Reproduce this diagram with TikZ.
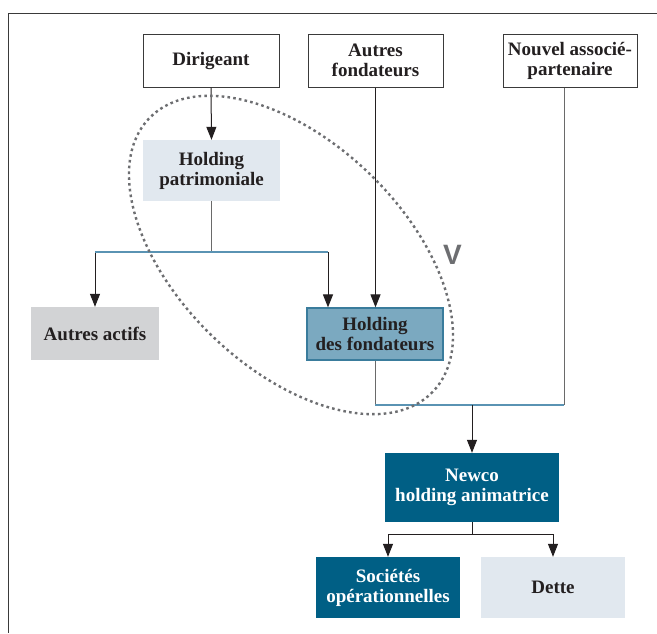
\documentclass[tikz,border=0pt]{standalone}
\usepackage{fontspec}
\setmainfont{Liberation Serif}
\newfontfamily\vfont{Liberation Sans}
\usetikzlibrary{arrows.meta}
\definecolor{darkteal}{HTML}{005F85}
\definecolor{midteal}{HTML}{7BA9C0}
\definecolor{midedge}{HTML}{3A7C9C}
\definecolor{lightblue}{HTML}{E1E8EF}
\definecolor{lightgray}{HTML}{D2D3D5}
\definecolor{txt}{HTML}{231F20}
\definecolor{framec}{HTML}{3A3A3A}
\definecolor{linegray}{HTML}{6A6A6A}
\definecolor{lineblue}{HTML}{5A93B3}
\definecolor{dotgray}{HTML}{6D6E71}
\tikzset{
  base/.style={rectangle, inner sep=0pt, align=center, text=txt,
    font=\fontsize{19}{20}\selectfont\bfseries},
  wbox/.style={base, draw=framec, line width=1pt, fill=white},
  lbox/.style={base, fill=lightblue},
  gbox/.style={base, fill=lightgray},
  mbox/.style={base, fill=midteal, draw=midedge, line width=1.2pt},
  dbox/.style={base, fill=darkteal, text=white},
  arr/.style={draw=txt, line width=1pt, -{Triangle[length=13pt,width=10pt]}},
  gline/.style={draw=linegray, line width=1pt},
  kline/.style={draw=txt, line width=1pt},
  bline/.style={draw=lineblue, line width=1.2pt},
  ell/.style={draw=dotgray, line width=2.4pt, dash pattern=on 2.6pt off 3.2pt},
  framestyle/.style={draw=framec, line width=1.5pt}
}
\begin{document}
\begin{tikzpicture}[x=1pt,y=-1pt]
\useasboundingbox (0,0) rectangle (657,633);
\fill[white] (0,0) rectangle (657,633);
\draw[framestyle] (657,13.5) -- (8.5,13.5) -- (8.5,633);

\node[wbox, minimum width=136pt, minimum height=53pt] (dir) at (211,60.5) {Dirigeant};
\node[wbox, minimum width=135pt, minimum height=53pt] (af) at (375.5,60.5) {Autres\\fondateurs};
\node[wbox, minimum width=134pt, minimum height=53pt] (nouv) at (570,60.5) {Nouvel associé-\\partenaire};
\node[lbox, minimum width=137pt, minimum height=61pt] (pat) at (211.5,170.5) {Holding\\patrimoniale};
\node[gbox, minimum width=128pt, minimum height=53pt] (aa) at (95,333.5) {Autres actifs};
\node[mbox, minimum width=136pt, minimum height=52pt] (hdf) at (375,334) {Holding\\des fondateurs};
\node[dbox, minimum width=174pt, minimum height=69pt] (newco) at (472,487.5) {Newco\\holding animatrice};
\node[dbox, minimum width=144pt, minimum height=61pt] (soc) at (388,587.5) {Sociétés\\opérationnelles};
\node[lbox, minimum width=144pt, minimum height=61pt] (dette) at (553,587.5) {Dette};

% Dirigeant -> Holding patrimoniale
\draw[arr] (dir.south) -- (pat.north);
% Holding patrimoniale branches
\coordinate (b1) at (211.5,252);
\coordinate (hdfin) at ([xshift=-47pt]hdf.north);
\draw[gline] (pat.south) -- (b1);
\draw[arr] (aa.north |- b1) -- (aa.north);
\draw[arr] (hdfin |- b1) -- (hdfin);
\draw[bline] (aa.north |- b1) -- (hdfin |- b1);
% Autres fondateurs -> Holding des fondateurs
\draw[arr] (af.south) -- (af.south |- hdf.north);
% Holding des fondateurs + Nouvel associe -> Newco
\coordinate (b2) at (375,405);
\coordinate (nouvout) at ([xshift=-6pt]nouv.south);
\draw[gline] (hdf.south) -- (b2);
\draw[gline] (nouvout) -- (nouvout |- b2);
\draw[bline] (b2) -- (nouvout |- b2);
\draw[arr] (newco.north |- b2) -- (newco.north);
% Newco -> Societes, Dette
\coordinate (b4) at (472,534);
\draw[kline] (newco.south) -- (b4);
\draw[arr] (soc.north |- b4) -- (soc.north);
\draw[arr] (dette.north |- b4) -- (dette.north);
\draw[kline] (soc.north |- b4) -- (dette.north |- b4);

% dotted ellipse
\draw[ell] (291,255) ellipse [x radius=197, y radius=113, rotate=-44];
\node[inner sep=0pt, text=dotgray, font=\vfont\bfseries\fontsize{28}{28}\selectfont] (v) at (452.5,255) {V};
\end{tikzpicture}
\end{document}
